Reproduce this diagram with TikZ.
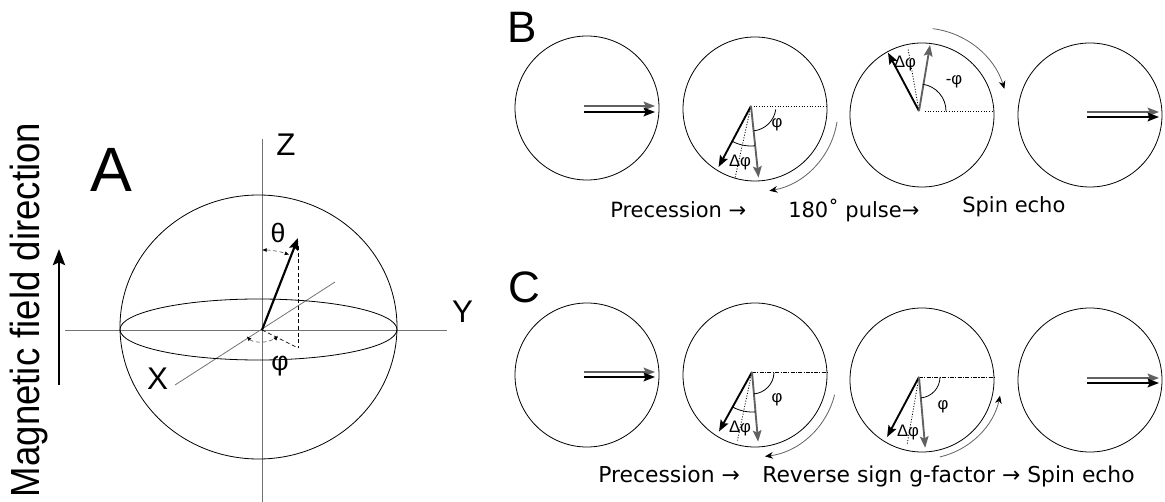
\documentclass[tikz,border=0pt]{standalone}
\usepackage{graphicx}
\usepackage{fontspec}
\setmainfont{Liberation Sans}
\newfontfamily\comicf{DejaVu Sans}
\usetikzlibrary{arrows.meta}
\definecolor{vgray}{gray}{0.38}
\definecolor{axgray}{gray}{0.45}
\begin{document}
\begin{tikzpicture}[x=0.75pt,y=-0.75pt,
  outline/.style={draw=black, line width=0.6pt},
  axisline/.style={draw=axgray, line width=0.6pt},
  vecblack/.style={draw=black, line width=1.4pt, -{Stealth[length=8.5pt,width=6.5pt,inset=1.5pt]}},
  vecgray/.style={draw=vgray, line width=1.4pt, -{Stealth[length=8.5pt,width=6.5pt,inset=1.5pt]}},
  refdot/.style={draw=black, line width=0.6pt, dash pattern=on 0.8pt off 1.2pt},
  refdash/.style={draw=black, line width=0.7pt, dash pattern=on 3pt off 1pt on 0.8pt off 1pt},
  spinarc/.style={draw=vgray, line width=0.6pt, -{Stealth[length=6pt,width=5pt,black]}},
  angarc/.style={draw=black, line width=0.6pt},
  biarc/.style={draw=vgray, line width=0.5pt, densely dashed, {Latex[length=3.5pt,width=3pt,black]}-{Latex[length=3.5pt,width=3pt,black]}},
  glbl/.style={font=\fontsize{12.5}{14}\selectfont, inner sep=0pt},
  capB/.style={font=\comicf\fontsize{15.75}{18}\selectfont, anchor=base west, inner sep=0pt},
  capC/.style={font=\comicf\fontsize{16.4}{18}\selectfont, anchor=base west, inner sep=0pt},
  panel/.style={font=\fontsize{33}{36}\selectfont, inner sep=0pt},
  axlbl/.style={font=\fontsize{23.5}{26}\selectfont, inner sep=0pt}
]
\useasboundingbox (0,0) rectangle (1165,502);

% ---------------- Panel A ----------------
\node[rotate=90, anchor=base, inner sep=0pt, font=\fontsize{30.5}{34}\selectfont] (mfd) at (40,310) {\scalebox{0.9}[1]{Magnetic field direction}};
\coordinate (mb) at (59,385);
\coordinate (mt) at (59,249);
\draw[line width=2.2pt, -{Stealth[length=12pt,width=9pt,inset=2pt]}] (mb) -- (mt);

\node[inner sep=0pt, font=\fontsize{47}{50}\selectfont] (labA) at (111,169.5) {A};

\coordinate (O) at (262,330);
\coordinate (zt) at (262,139);
\coordinate (zb) at (262,502);
\coordinate (hl) at (65,330);
\coordinate (hr) at (447,330);
\coordinate (xl) at (175,385);
\coordinate (xr) at (335,282);
\draw[axisline] (zt) -- (zb);
\draw[axisline] (hl) -- (hr);
\draw[axisline] (xl) -- (xr);
\draw[outline] (258.5,327) ellipse[x radius=138.5, y radius=132];
\draw[outline] (258.5,329.5) ellipse[x radius=138.5, y radius=30.5];

\coordinate (V) at (298,238);
\coordinate (Vb) at (298,246);
\coordinate (P) at (298,348);
\draw[line width=1.6pt, -{Stealth[length=9pt,width=7pt,inset=1.5pt]}] (O) -- (V);
\draw[draw=black, line width=0.5pt, densely dashed] (Vb) -- (P);
\draw[draw=black, line width=0.5pt, densely dashed] (O) -- (P);
\draw[biarc] (O) ++(-90:80) arc[start angle=-90, end angle=-70, radius=80];
\draw[biarc] (O) ++(148:18 and 12) arc[start angle=148, end angle=28, x radius=18, y radius=12];

\node[axlbl] (lz) at (286,144.5) {Z};
\node[axlbl] (ly) at (462.5,311.5) {Y};
\node[axlbl] (lx) at (157.5,379) {X};
\node[inner sep=0pt, font=\fontsize{20}{22}\selectfont] (lth) at (278,233) {θ};
\node[inner sep=0pt, font=\fontsize{20}{22}\selectfont] (lph) at (280,366) {φ};

% ---------------- Panel B ----------------
\node[panel] (labB) at (522,27.5) {B};
\coordinate (B1) at (587,108);
\coordinate (B2) at (755,109);
\coordinate (B3) at (922,115);
\coordinate (B4) at (1090,115);
\foreach \c in {B1,B2,B3,B4} \draw[outline] (\c) circle[radius=72];

% B1 and B4: aligned spins
\draw[vecgray] ([shift={(-3,-2)}]B1) -- ++(71,0);
\draw[vecblack] ([shift={(-3,4)}]B1) -- ++(71,0);
\draw[vecgray] ([shift={(-3,-3)}]B4) -- ++(72,0);
\draw[vecblack] ([shift={(-3,2)}]B4) -- ++(72,0);

% B2: dephasing
\coordinate (O2) at (751,106);
\draw[refdot] (O2) -- ++(76,0);
\draw[refdot] (O2) -- ++(102.5:74);
\draw[vecblack] (O2) -- ++(118:69);
\draw[vecgray] (O2) -- ++(84:72);
\draw[angarc] (O2) ++(8:25) arc[start angle=8, end angle=84, radius=25];
\draw[angarc] (O2) ++(84:40) arc[start angle=84, end angle=118, radius=40];
\node[glbl] (b2p) at (777,125) {φ};
\node[glbl] (b2d) at (740,162) {Δφ};
\draw[spinarc] (B2) ++(9:83) arc[start angle=9, end angle=80, radius=83];

% B3: after 180 pulse
\coordinate (O3) at (919,111);
\draw[refdot] ([shift={(6,0)}]O3) -- ++(69,0);
\draw[refdot] (O3) -- ++(-100:64);
\draw[vecblack] (O3) -- ++(-118:66);
\draw[vecgray] (O3) -- ++(-80.5:67);
\draw[angarc] (O3) ++(0:27) arc[start angle=0, end angle=-82, radius=27];
\node[glbl] (b3p) at (954,82) {-φ};
\node[glbl] (b3d) at (905,63) {Δφ};
\draw[spinarc] (B3) ++(-83:87) arc[start angle=-83, end angle=-17, radius=86];

\node[capB] (tb1) at (610,218) {Precession →};
\node[capB] (tb2) at (788,218) {180˚ pulse→};
\node[capB] (tb3) at (962,213) {Spin echo};

% ---------------- Panel C ----------------
\node[panel] (labC) at (524,287.5) {C};
\coordinate (C1) at (587,375);
\coordinate (C2) at (755,375);
\coordinate (C3) at (922,380);
\coordinate (C4) at (1090,380);
\foreach \c in {C1,C2,C3,C4} \draw[outline] (\c) circle[radius=72];

\draw[vecgray] ([shift={(-3,-3)}]C1) -- ++(71,0);
\draw[vecblack] ([shift={(-3,2)}]C1) -- ++(71,0);
\draw[vecgray] ([shift={(-3,-2)}]C4) -- ++(72,0);
\draw[vecblack] ([shift={(-3,3)}]C4) -- ++(72,0);

% C2
\coordinate (P2) at (752,372);
\draw[refdash] (P2) -- ++(75,0);
\draw[refdot] (P2) -- ++(102:70);
\draw[vecblack] (P2) -- ++(119:68);
\draw[vecgray] (P2) -- ++(85:70);
\draw[angarc] (P2) ++(3:22) arc[start angle=3, end angle=85, radius=22];
\draw[angarc] (P2) ++(85:40) arc[start angle=85, end angle=119, radius=40];
\node[glbl] (c2p) at (777,400) {φ};
\node[glbl] (c2d) at (740,428) {Δφ};
\draw[spinarc] (C2) ++(14:82) arc[start angle=14, end angle=83, radius=82];

% C3
\coordinate (P3) at (919,377);
\draw[refdash] (P3) -- ++(75,0);
\draw[refdot] (P3) -- ++(100:69);
\draw[vecblack] (P3) -- ++(118:68);
\draw[vecgray] (P3) -- ++(85:71);
\draw[angarc] (P3) ++(0:21) arc[start angle=0, end angle=85, radius=21];
\node[glbl] (c3p) at (943,407) {φ};
\node[glbl] (c3d) at (908,432) {Δφ};
\draw[spinarc] (C3) ++(77:79) arc[start angle=77, end angle=12, radius=80];

\node[capC] (tc1) at (598,483) {Precession →};
\node[capC] (tc2) at (762,483) {Reverse sign g-factor → Spin echo};
\end{tikzpicture}
\end{document}
